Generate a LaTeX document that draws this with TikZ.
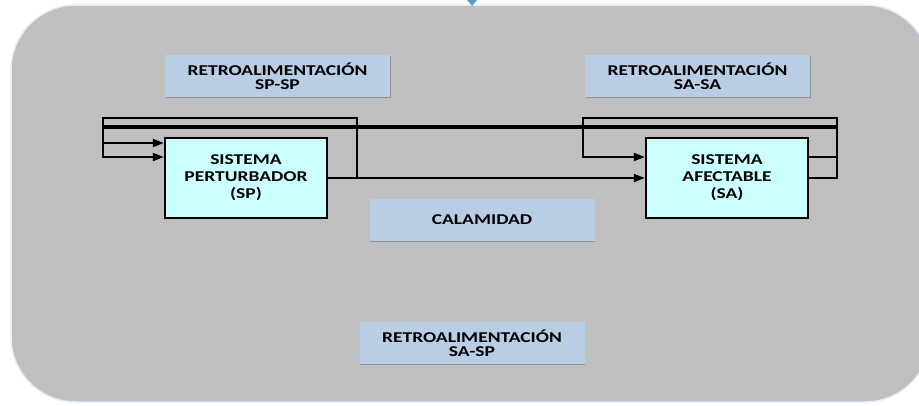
\documentclass[tikz,border=0pt]{standalone}
\usepackage{fontspec}
\setmainfont{Carlito}
\usetikzlibrary{arrows.meta,shadows}
\definecolor{bggray}{HTML}{BFBFBF}
\definecolor{labblue}{HTML}{B9CDE5}
\definecolor{syscyan}{HTML}{CCFFFF}
\definecolor{tipblue}{HTML}{5B9BD5}
\definecolor{halo}{HTML}{E3ECF7}
\newcommand{\stretchtxt}[1]{\scalebox{1.3}[1]{#1}}
\begin{document}
\begin{tikzpicture}[x=1pt,y=-1pt,
  labelbox/.style={fill=labblue, minimum width=225pt, minimum height=42pt, inner sep=0pt,
    align=center, font=\bfseries\fontsize{15}{14.5}\selectfont,
    drop shadow={shadow xshift=0.5pt, shadow yshift=-1.2pt, opacity=0.25, fill=black}},
  sysbox/.style={fill=syscyan, draw=black, line width=2.4pt, minimum width=162pt,
    minimum height=80pt, inner sep=0pt, align=center,
    font=\bfseries\fontsize{15}{17}\selectfont},
  wire/.style={line width=1.8pt},
  thickwire/.style={line width=3.2pt},
  arr/.style={wire,-{Triangle[length=11pt,width=8pt]}}]
\useasboundingbox (0,0) rectangle (919,405);
% background panel
\path[fill=bggray, draw=halo, line width=1.5pt, rounded corners=65pt] (11,5) rectangle (930,402);
% blue tip at top
\fill[tipblue] (467,0) -- (477,0) -- (472,6) -- cycle;
% label boxes
\node[labelbox] (lspsp) at (277.5,76) {\stretchtxt{RETROALIMENTACIÓN}\\\stretchtxt{SP-SP}};
\node[labelbox] (lsasa) at (697.5,76) {\stretchtxt{RETROALIMENTACIÓN}\\\stretchtxt{SA-SA}};
\node[labelbox] (lcal) at (482,220) {\stretchtxt{CALAMIDAD}};
\node[labelbox] (lsasp) at (472,343) {\stretchtxt{RETROALIMENTACIÓN}\\\stretchtxt{SA-SP}};
% systems
\node[sysbox] (sp) at (246,178) {\stretchtxt{SISTEMA}\\\stretchtxt{PERTURBADOR}\\\stretchtxt{(SP)}};
\node[sysbox] (sa) at (727,178) {\stretchtxt{SISTEMA}\\\stretchtxt{AFECTABLE}\\\stretchtxt{(SA)}};
% coordinates
\coordinate (spTR) at (357,118);
\coordinate (spTL) at (103,118);
\coordinate (spBL) at (103,157);
\coordinate (spIn1) at (103,143);
\coordinate (saTL) at (583,118);
\coordinate (saBL) at (583,157);
\coordinate (saTR) at (837,118);
\coordinate (saBR) at (837,178);
\coordinate (saOut1) at (837,157);
\coordinate (fbR) at (837,127);
\coordinate (fbL) at (103,127);
% connectors
\draw[arr] (sp.east) -- (sa.west);
\draw[arr] (sp.east -| spTR) -- (spTR) -- (spTL) -- (spBL) -- (spBL -| sp.west);
\draw[arr] (spIn1) -- (spIn1 -| sp.west);
\draw[thickwire] (fbR) -- (fbL);
\draw[arr] (sa.east) -- (saBR) -- (saTR) -- (saTL) -- (saBL) -- (saBL -| sa.west);
\draw[wire] (saOut1 -| sa.east) -- (saOut1);
\end{tikzpicture}
\end{document}
